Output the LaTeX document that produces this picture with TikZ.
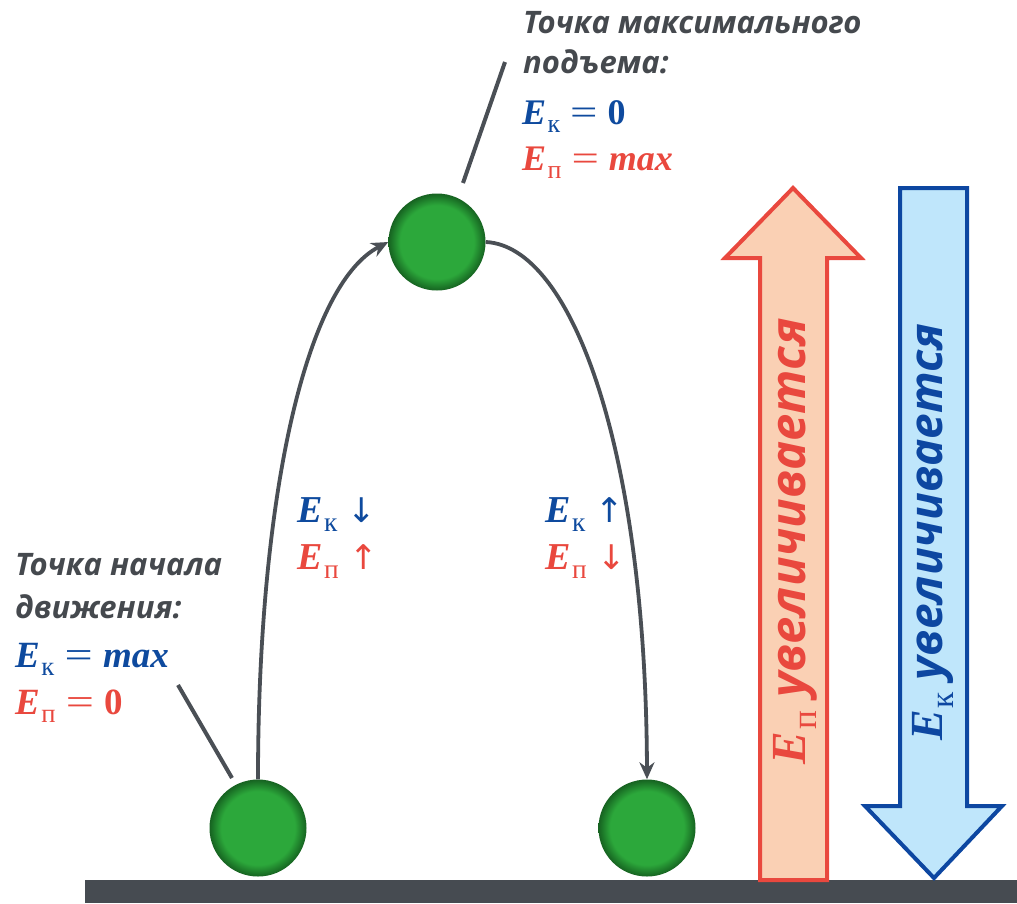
\documentclass[tikz,border=0pt]{standalone}
\usepackage{fontspec}
\setmainfont{Open Sans}
\newfontfamily\mf{Liberation Serif}
\newfontfamily\af{DejaVu Sans}
\usetikzlibrary{arrows.meta}
\definecolor{tgray}{HTML}{45494E}
\definecolor{eblue}{HTML}{0E4A9E}
\definecolor{ered}{HTML}{E9483E}
\definecolor{lgray}{HTML}{4A4F55}
\definecolor{groundc}{HTML}{464B51}
\definecolor{peach}{HTML}{FAD0B4}
\definecolor{sky}{HTML}{BFE6FB}
\definecolor{ablue}{HTML}{0D47A1}
\definecolor{gA}{HTML}{2CA83B}
\definecolor{gB}{HTML}{1B7427}
\pgfdeclareradialshading{diskshade}{\pgfpoint{0bp}{0bp}}{color(0bp)=(gA); color(19bp)=(gA); color(23.5bp)=(gB); color(25bp)=(gB!85!black); color(50bp)=(gB)}
\newcommand\Ex[1]{{\mf\bfseries\itshape E}\kern0.04em\raisebox{-0.24em}{\scalebox{0.72}{\mf\upshape\mdseries #1}}}
\newcommand\eqs{\;\scalebox{1.35}[1]{\mf\mdseries\upshape =}\;}
\newcommand\arr[1]{{\af\fontsize{34}{34}\selectfont #1}}
\tikzset{
  ballst/.style={circle, minimum size=97pt, inner sep=0pt, shading=diskshade,
    path picture={\draw[white, opacity=0.35, line width=2pt] ([shift={(path picture bounding box.center)}]150:42pt) arc[start angle=150, end angle=40, radius=42pt];}},
  curvest/.style={draw=lgray, line width=3.8pt, -{Stealth[length=17pt, width=15pt]}},
  pointst/.style={draw=lgray, line width=4pt},
  labst/.style={anchor=base west, inner sep=0pt, font=\fontsize{31}{36}\selectfont\bfseries\itshape, text=tgray},
  elab/.style={anchor=base west, inner sep=0pt, font=\fontsize{#1}{#1}\selectfont},
  bigarrow/.style={line width=4pt, line join=miter},
  rotlab/.style={rotate=90, inner sep=0pt, font=\fontsize{#1}{#1}\selectfont\bfseries\itshape},
}
\begin{document}
\begin{tikzpicture}[x=1pt,y=-1pt]
\useasboundingbox (0,0) rectangle (1017,903);
% ground
\fill[groundc] (85,880) rectangle (1017,903);
% big arrows
\draw[bigarrow, draw=ered, fill=peach] (760,880) -- (760,258) -- (725,258) -- (793,188) -- (861,258) -- (827,258) -- (827,880) -- cycle;
\draw[bigarrow, draw=ablue, fill=sky] (900,188) -- (967,188) -- (967,806) -- (1002,806) -- (934,878) -- (865,806) -- (900,806) -- cycle;
\node[rotlab=49, text=ered] (tp) at (795,541) {\Ex{п} увеличивается};
\node[rotlab=46, text=ablue] (tk) at (933,532) {\Ex{к} увеличивается};
% balls
\node[ballst] (b1) at (258,828) {};
\node[ballst] (b2) at (437,242) {};
\node[ballst] (b3) at (647,828) {};
% curves
\draw[curvest] (b1.north) .. controls (258,500) and (305,285) .. (b2.west);
\draw[curvest] (b2.east) .. controls (572,246) and (646,450) .. (b3.north);
% pointers
\coordinate (p1) at (178,685);
\coordinate (p1b) at (232,778);
\coordinate (p2) at (505,62);
\coordinate (p2b) at (463,183);
\draw[pointst] (p1b) -- (p1);
\draw[pointst] (p2b) -- (p2);
% top annotation
\node[labst] (t1) at (523,33) {Точка максимального};
\node[labst] (t2) at (523,73) {подъема:};
\node[elab=36, text=eblue] (t3) at (522,124) {\Ex{к}\eqs{\mf\bfseries 0}};
\node[elab=36, text=ered] (t4) at (522,170) {\Ex{п}\eqs{\mf\bfseries\itshape max}};
% left annotation
\node[labst] (l1) at (15,575) {Точка начала};
\node[labst] (l2) at (15,618) {движения:};
\node[elab=37, text=eblue] (l3) at (15,667) {\Ex{к}\eqs{\mf\bfseries\itshape max}};
\node[elab=37, text=ered] (l4) at (15,714) {\Ex{п}\eqs{\mf\bfseries 0}};
% middle labels
\node[elab=38, text=eblue] (m1) at (297,522) {\Ex{к}\;\arr{↓}};
\node[elab=38, text=ered] (m2) at (297,569) {\Ex{п}\;\arr{↑}};
\node[elab=38, text=eblue] (m3) at (545,522) {\Ex{к}\;\arr{↑}};
\node[elab=38, text=ered] (m4) at (545,569) {\Ex{п}\;\arr{↓}};
\end{tikzpicture}
\end{document}
